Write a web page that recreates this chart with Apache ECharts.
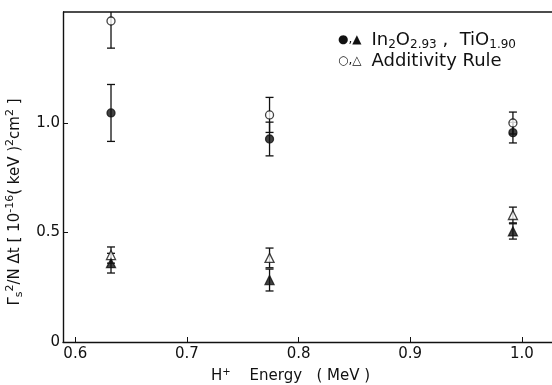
<!DOCTYPE html>
<html>
<head>
<meta charset="utf-8">
<script src="https://cdn.jsdelivr.net/npm/echarts@6/dist/echarts.min.js"></script>
<style>
  html, body { margin: 0; padding: 0; background: #fff; }
  #chart { width: 552px; height: 385px; }
</style>
</head>
<body>
<div id="chart"></div>
<script>
// H+ energy (MeV) of each measurement group
const energy = [0.632, 0.774, 0.992];

// In2O2.93 , TiO1.90 (filled marks) and additivity rule (open marks)
const filledCircle = [1.046, 0.927, 0.956];
const filledCircleErr = [0.13, 0.077, 0.047];
const openCircle = [1.466, 1.037, 1.0];
const openCircleErr = [0.124, 0.08, 0.05];
const filledTri = [0.36, 0.283, 0.505];
const filledTriErr = [0.045, 0.05, 0.035];
const openTri = [0.397, 0.384, 0.58];
const openTriErr = [0.037, 0.045, 0.036];

const xTicks = [0.6, 0.7, 0.8, 0.9, 1.0];
const yTicks = [0, 0.5, 1.0];

const ink = '#111';
const font = 'DejaVu Sans';

const chart = echarts.init(document.getElementById('chart'));

const withErr = (vals, errs) => energy.map((x, i) => [x, vals[i], errs[i]]);

function errorBar(params, api) {
    const x = api.value(0);
    const y = api.value(1);
    const e = api.value(2);
    const top = api.coord([x, y + e]);
    const bot = api.coord([x, y - e]);
    const w = 4;
    const style = { stroke: ink, lineWidth: 1.3 };
    return {
        type: 'group',
        children: [
            { type: 'line', shape: { x1: top[0], y1: top[1], x2: bot[0], y2: bot[1] }, style },
            { type: 'line', shape: { x1: top[0] - w, y1: top[1], x2: top[0] + w, y2: top[1] }, style },
            { type: 'line', shape: { x1: bot[0] - w, y1: bot[1], x2: bot[0] + w, y2: bot[1] }, style },
        ],
    };
}

const errSeries = (vals, errs) => ({
    type: 'custom',
    renderItem: errorBar,
    data: withErr(vals, errs),
    clip: true,
    silent: true,
    z: 1,
});

const markSeries = (vals, symbol, size, filled) => ({
    type: 'scatter',
    data: energy.map((x, i) => [x, vals[i]]),
    symbol: symbol,
    symbolSize: size,
    itemStyle: {
        color: filled ? ink : '#fff',
        borderColor: ink,
        borderWidth: 1.3,
    },
    z: 3,
});

const option = {
    backgroundColor: '#fff',
    animation: false,
    textStyle: { fontFamily: font, color: ink },
    grid: { left: 63, top: 12, right: 0, bottom: 43, outerBoundsMode: 'none', containLabel: false },
    xAxis: {
        type: 'value',
        min: 0.589,
        max: 1.027,
        name: '{t|H}{sup|+}{t|    Energy   ( MeV )}',
        nameLocation: 'middle',
        nameGap: 25,
        nameTextStyle: {
            padding: [0, 34, 0, 0],
            rich: {
                t: { fontSize: 15, fontFamily: font, color: ink },
                sup: { fontSize: 10, fontFamily: font, color: ink, padding: [0, 0, 9, 0] },
            },
        },
        axisLine: { lineStyle: { color: ink, width: 1.4 } },
        axisTick: { inside: true, length: 5, customValues: xTicks, lineStyle: { color: ink } },
        axisLabel: {
            customValues: xTicks,
            fontSize: 15,
            color: ink,
            margin: 5,
            formatter: (v) => v.toFixed(1),
        },
        splitLine: { show: false },
    },
    yAxis: {
        type: 'value',
        min: 0,
        max: 1.507,
        name: '{t|Γ}{sub|s}{sup|2}{t|/N Δt [ 10}{sup|-16}{t|( keV )}{sup|2}{t|cm}{sup|2}{t| ]}',
        nameLocation: 'middle',
        nameRotate: 90,
        nameGap: 38,
        nameTextStyle: {
            padding: [0, 50, 0, 0],
            rich: {
                t: { fontSize: 15, fontFamily: font, color: ink },
                sub: { fontSize: 11, fontFamily: font, color: ink, padding: [9, 0, 0, 0] },
                sup: { fontSize: 11, fontFamily: font, color: ink, padding: [0, 0, 9, 0] },
            },
        },
        axisLine: { show: true, lineStyle: { color: ink, width: 1.4 } },
        axisTick: { show: true, inside: true, length: 5, customValues: yTicks, lineStyle: { color: ink } },
        axisLabel: {
            customValues: yTicks,
            fontSize: 15,
            color: ink,
            margin: 3,
            formatter: (v) => (v === 0 ? '0' : v.toFixed(1)),
        },
        splitLine: { show: false },
    },
    graphic: [
        // top frame line
        {
            type: 'line',
            shape: { x1: 63, y1: 12, x2: 552, y2: 12 },
            style: { stroke: ink, lineWidth: 1.4 },
        },
        {
            type: 'text',
            left: 338,
            top: 31,
            style: {
                text: '{m|●,▲}   {t|In}{sub|2}{t|O}{sub|2.93}{t| ,  TiO}{sub|1.90}',
                rich: {
                    m: { fontSize: 12, fontFamily: font, fill: ink },
                    t: { fontSize: 18, fontFamily: font, fill: ink },
                    sub: { fontSize: 12, fontFamily: font, fill: ink, padding: [10, 0, 0, 0] },
                },
            },
        },
        {
            type: 'text',
            left: 338,
            top: 52,
            style: {
                text: '{m|○,△}   {t|Additivity Rule}',
                rich: {
                    m: { fontSize: 12, fontFamily: font, fill: ink },
                    t: { fontSize: 18, fontFamily: font, fill: ink },
                },
            },
        },
    ],
    series: [
        errSeries(openCircle, openCircleErr),
        errSeries(filledCircle, filledCircleErr),
        errSeries(openTri, openTriErr),
        errSeries(filledTri, filledTriErr),
        markSeries(openCircle, 'circle', 8, false),
        markSeries(filledCircle, 'circle', 8, true),
        markSeries(openTri, 'triangle', 9, false),
        markSeries(filledTri, 'triangle', 9, true),
    ],
};

chart.setOption(option);
</script>
</body>
</html>
